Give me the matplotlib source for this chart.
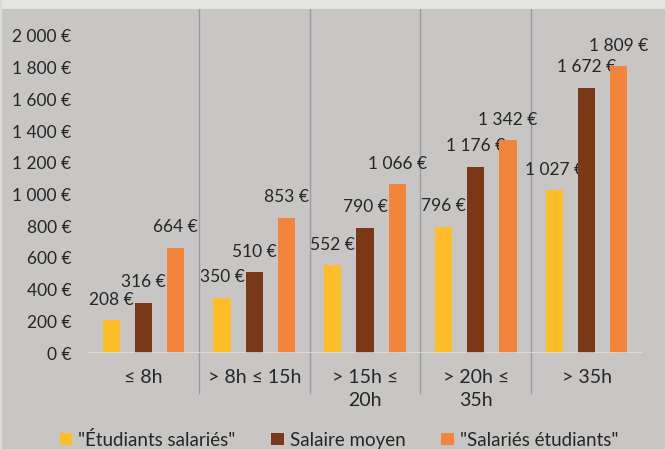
import matplotlib.pyplot as plt
from matplotlib.patches import Rectangle
import numpy as np

plt.rcParams['font.family'] = ['Lato', 'DejaVu Sans']

categories = ["≤ 8h", "> 8h ≤ 15h", "> 15h ≤\n20h", "> 20h ≤\n35h", "> 35h"]
series_names = ['"Étudiants salariés"', "Salaire moyen", '"Salariés étudiants"']
etudiants_salaries = [208, 350, 552, 796, 1027]
salaire_moyen = [316, 510, 790, 1176, 1672]
salaries_etudiants = [664, 853, 1066, 1342, 1809]
yticks = [0, 200, 400, 600, 800, 1000, 1200, 1400, 1600, 1800, 2000]

colors = ["#FDBE2A", "#7B3817", "#F3843B"]
bg = "#C8C6C4"
txt = "#262626"


def euro(v):
    return f"{v:,}".replace(",", " ") + " €"


fig = plt.figure(figsize=(6.65, 4.49), dpi=100, facecolor=bg)
# light strip at the top of the chart frame
fig.patches.append(Rectangle((0, 1 - 9 / 449), 1, 9 / 449, transform=fig.transFigure,
                             facecolor="#E4E4E2", edgecolor="none", zorder=0))
fig.patches.append(Rectangle((0, 0), 2 / 665, 1, transform=fig.transFigure,
                             facecolor="#DADAD8", edgecolor="none", zorder=0))

ax = fig.add_axes([88 / 665, 96 / 449, 554 / 665, 344 / 449])
ax.set_facecolor(bg)

x = np.arange(len(categories))
w = 0.155
step = 0.29
for i, (vals, c, name) in enumerate(zip([etudiants_salaries, salaire_moyen, salaries_etudiants],
                                        colors, series_names)):
    pos = x + (i - 1) * step
    ax.bar(pos, vals, width=w, color=c, label=name, zorder=3)
    for px, v in zip(pos, vals):
        ax.annotate(euro(v), (px, v), xytext=(0, 9), textcoords="offset points",
                    ha="center", va="bottom", fontsize=12.5, color=txt)

ax.set_xlim(-0.5, len(categories) - 0.5)
ax.set_ylim(0, 2170)
ax.set_yticks(yticks)
ax.set_yticklabels([euro(v) for v in yticks])
ax.set_xticks(x)
ax.set_xticklabels(categories, linespacing=1.45)
ax.tick_params(axis="y", length=0, pad=12, labelsize=12.5, labelcolor=txt)
ax.tick_params(axis="x", length=0, pad=11.5, labelsize=14, labelcolor=txt)
for s in ax.spines.values():
    s.set_visible(False)

# category separators and baseline
for b in x[:-1] + 0.5:
    ax.axvline(b, ymin=-0.116, ymax=1, color="#9C9CA0", lw=1, clip_on=False, zorder=2)
ax.axhline(0, color="#E2E2E2", lw=1.8, zorder=4)

fig.legend(loc="lower center", bbox_to_anchor=(0.51, -0.037), ncol=3, frameon=False,
           fontsize=13.5, handlelength=0.65, handleheight=0.65, handletextpad=0.35,
           columnspacing=1.9, labelcolor=txt)

fig.savefig("out.png", dpi=100, facecolor=bg)
